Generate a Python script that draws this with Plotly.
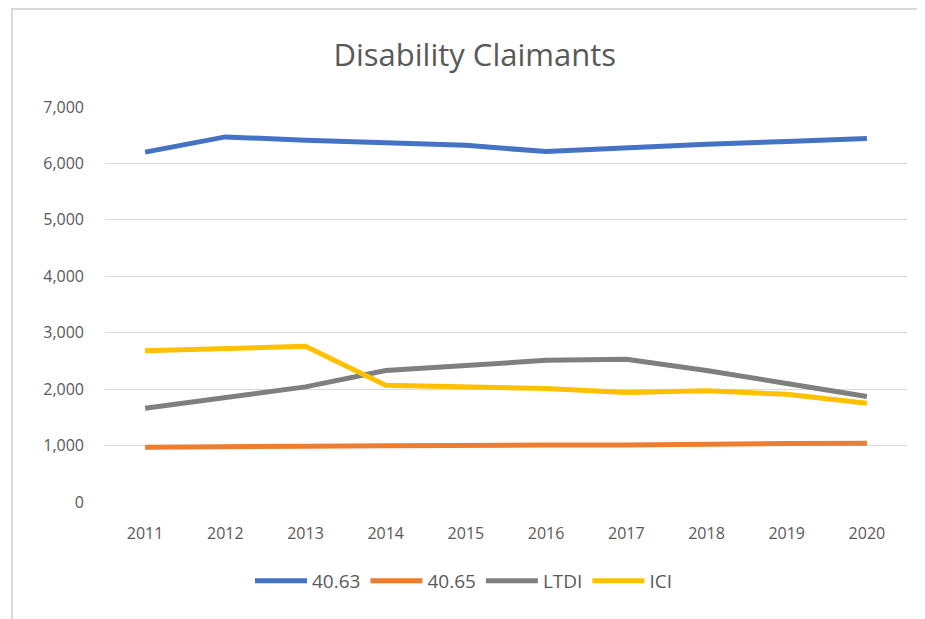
import plotly.graph_objects as go

years = ["2011", "2012", "2013", "2014", "2015", "2016", "2017", "2018", "2019", "2020"]
s_4063 = [6200, 6470, 6410, 6370, 6320, 6210, 6280, 6340, 6390, 6440]
s_4065 = [970, 970, 990, 995, 1010, 1010, 1010, 1030, 1035, 1040]
s_ltdi = [1660, 1850, 2040, 2330, 2430, 2510, 2530, 2330, 2100, 1870]
s_ici = [2680, 2710, 2760, 2070, 2030, 2010, 1940, 1970, 1910, 1750]

SERIES = [
    ("40.63", s_4063, "#4472C4"),
    ("40.65", s_4065, "#ED7D31"),
    ("LTDI", s_ltdi, "#7F7F7F"),
    ("ICI", s_ici, "#FFC000"),
]

TEXT = "#595959"
FONT = "Open Sans"

fig = go.Figure()
for name, vals, color in SERIES:
    fig.add_trace(go.Scatter(
        x=years, y=vals, name=name, mode="lines",
        line=dict(color=color, width=5),
    ))

# page body adds an 8px offset, so the figure is a bit smaller than the window
fig.update_layout(
    width=917, height=611,
    paper_bgcolor="white", plot_bgcolor="white",
    margin=dict(l=97, r=18, t=99, b=117),
    font=dict(family=FONT, color=TEXT, size=16),
    title=dict(text="Disability Claimants", x=0.509, xanchor="center",
               y=0.923, yanchor="middle", font=dict(size=31, color=TEXT, family=FONT)),
    showlegend=True,
    legend=dict(orientation="h", x=0.447, xanchor="center", y=-0.2, yanchor="middle",
                font=dict(size=19, color=TEXT), itemwidth=52, tracegroupgap=0),
    shapes=[dict(type="rect", xref="paper", yref="paper", x0=-0.116, x1=1.3,
                 y0=-0.6, y1=1.248, line=dict(color="#d9d9d9", width=2),
                 fillcolor="rgba(0,0,0,0)", layer="below")],
)
fig.update_xaxes(type="category", range=[-0.5, 9.5], showgrid=False, showline=False,
                 ticks="", ticklabelstandoff=20, tickfont=dict(size=16, color=TEXT))
fig.update_yaxes(range=[0, 7000], dtick=1000, tickformat=",", showgrid=True,
                 gridcolor="#d9d9d9", gridwidth=1, zeroline=False, showline=False,
                 ticks="", ticklabelstandoff=20, tickfont=dict(size=16, color=TEXT))

fig.write_html("out.html")
